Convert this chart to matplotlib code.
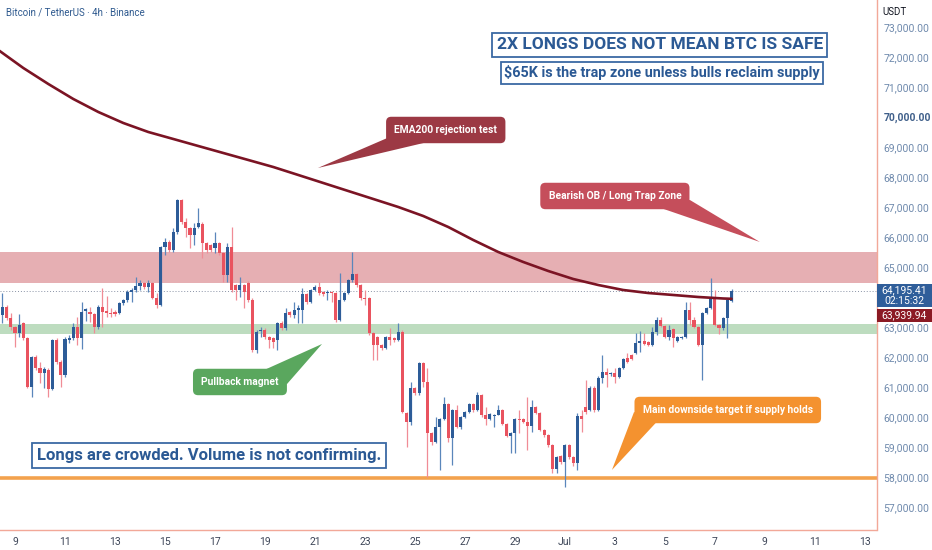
import matplotlib
matplotlib.use("Agg")
import matplotlib.pyplot as plt
from matplotlib.patches import Polygon, Rectangle
import numpy as np

plt.rcParams['font.family'] = ['Roboto', 'DejaVu Sans']

# BTC/USDT 4h candles, index 0 = Jun 9 00:00, first candle Jun 8 12:00
first_idx = -3
opens = [
    63400, 63670, 63300, 63000, 62800, 63130, 62630, 61000, 62000, 61630,
    61470, 61570, 60930, 62570, 61830, 61400, 62570, 62630, 63000, 62630,
    63530, 63500, 63430, 63000, 63670, 63530, 63470, 63500, 63470, 63800,
    63900, 64170, 64230, 64370, 64470, 64330, 64470, 63970, 63730, 65670,
    65830, 65570, 66170, 67230, 66500, 66300, 66070, 66330, 66430, 65800,
    65730, 65630, 65800, 65470, 64730, 65670, 64400, 64230, 64400, 64470,
    63900, 62230, 62870, 62900, 62670, 62630, 62570, 63130, 62970, 63500,
    63400, 63570, 63570, 64100, 63830, 64230, 64330, 64170, 64130, 64170,
    64130, 63230, 63900, 64130, 64570, 64770, 64400, 63970, 63970, 62800,
    62670, 62400, 62300, 62670, 62630, 62570, 62830, 60130, 59830, 60970,
    60800, 61800, 61170, 59470, 59170, 59670, 59930, 60430, 59300, 60230,
    59670, 60000, 60170, 60430, 60230, 60730, 60070, 59930, 60030, 60070,
    60230, 59770, 59370, 59470, 59930, 59930, 59830, 59700, 60330, 60130,
    59570, 59400, 59070, 58270, 58700, 58500, 59070, 58670, 58470, 60030,
    60330, 60230, 60970, 60230, 61300, 61500, 61430, 61470, 61330, 61630,
    61970, 62070, 62130, 62470, 62530, 62500, 62400, 62830, 63230, 63030,
    62670, 62930, 62530, 62630, 62670, 63570, 63230, 63000, 62400, 63470,
    63630, 63970, 63070, 62970, 63300, 63870,
]
highs = [
    64130, 63730, 63470, 63030, 63430, 63170, 62670, 62030, 62070, 61830,
    61670, 61630, 62600, 62630, 61900, 62670, 62730, 63130, 63330, 63830,
    63630, 63670, 63470, 63730, 64300, 64030, 63630, 63570, 63830, 63930,
    64230, 64300, 64670, 64570, 64500, 64570, 64500, 64130, 65700, 65970,
    65900, 66300, 67270, 67270, 66630, 66330, 66470, 66970, 66500, 65830,
    65770, 66170, 65830, 65500, 65800, 66330, 64430, 64670, 64430, 64530,
    63970, 62900, 63000, 62970, 62700, 62670, 63170, 63200, 63630, 63530,
    63830, 63730, 64300, 64130, 64270, 64400, 64500, 64200, 64230, 64200,
    64170, 64800, 64170, 64600, 65500, 64800, 64430, 64230, 64000, 62830,
    62700, 62430, 62700, 62970, 62670, 63130, 62900, 60170, 61170, 61000,
    61830, 61830, 61630, 59500, 60000, 59970, 60670, 60470, 60270, 60400,
    60030, 60200, 60470, 60470, 60830, 60770, 60330, 60130, 60100, 60400,
    60270, 59800, 59500, 59970, 60230, 59970, 60670, 60570, 60370, 60170,
    59600, 59430, 59100, 58700, 58730, 59100, 59100, 58700, 60130, 60230,
    61230, 61030, 61030, 61370, 62070, 61630, 61500, 61630, 61670, 61970,
    62130, 62100, 62800, 62870, 62800, 62530, 63000, 63330, 63330, 63070,
    63070, 62970, 62700, 62700, 63830, 63830, 63330, 63030, 63500, 63670,
    64630, 64230, 63100, 63330, 63930, 64270,
]
lows = [
    63130, 63230, 62900, 62330, 62670, 62570, 60970, 60670, 61570, 61130,
    60970, 60670, 60900, 61770, 61000, 61330, 62470, 62570, 62400, 62270,
    63200, 63170, 62800, 62930, 63000, 63330, 63330, 63370, 63430, 63730,
    63830, 63830, 64170, 64230, 64270, 64170, 63930, 63630, 63700, 65400,
    65500, 65500, 66100, 66430, 66000, 65630, 65730, 66300, 65300, 65470,
    65500, 65470, 65400, 64500, 64500, 64170, 63900, 64000, 63630, 63830,
    62170, 62130, 62670, 62600, 62300, 62300, 62230, 62900, 62900, 63330,
    63300, 63130, 63130, 63770, 63800, 64200, 64070, 64030, 63900, 63830,
    63170, 63200, 63870, 64100, 64500, 64330, 63900, 63730, 62730, 61900,
    61900, 62230, 62270, 62400, 62500, 62530, 60130, 59000, 59730, 60730,
    60730, 61000, 58000, 59070, 59130, 58230, 59900, 59170, 58400, 59630,
    59600, 59970, 60130, 60170, 60200, 60000, 59730, 59900, 59670, 60070,
    59730, 59330, 58800, 58800, 59470, 59800, 58900, 59500, 60100, 59530,
    59330, 59000, 58130, 58130, 58430, 57670, 58600, 58370, 58230, 59500,
    60100, 60200, 60170, 60200, 61130, 61000, 61370, 61130, 61300, 61600,
    61800, 61900, 62100, 62170, 62400, 62370, 62370, 62730, 63000, 62630,
    62570, 62330, 62500, 62600, 62630, 63070, 62970, 62370, 61230, 63430,
    63600, 63030, 62770, 62900, 62630, 63830,
]
closes = [
    63670, 63300, 63000, 62800, 63070, 62630, 61000, 62000, 61630, 61470,
    61600, 60930, 62570, 61830, 61400, 62600, 62630, 63000, 62630, 63500,
    63600, 63430, 63000, 63670, 63500, 63470, 63430, 63430, 63800, 63900,
    64170, 64230, 64370, 64470, 64330, 64470, 63970, 63730, 65670, 65830,
    65570, 66170, 67230, 66500, 66300, 66070, 66300, 66470, 65800, 65570,
    65570, 65800, 65470, 64730, 65670, 64230, 64230, 64400, 64170, 63900,
    62230, 62830, 62900, 62670, 62570, 62500, 63130, 62970, 63470, 63400,
    63570, 63630, 64100, 63830, 64230, 64330, 64130, 64100, 64140, 64130,
    63230, 63900, 64130, 64570, 64770, 64400, 63970, 63930, 62800, 62400,
    62400, 62300, 62670, 62570, 62570, 62830, 60170, 59830, 60970, 60800,
    61800, 61170, 59470, 59170, 59670, 59930, 60430, 59300, 60230, 59670,
    60000, 60170, 60430, 60230, 60730, 60070, 59930, 60100, 60050, 60230,
    59770, 59370, 59470, 59930, 59900, 59830, 59700, 60330, 60130, 59570,
    59400, 59070, 58270, 58670, 58500, 59070, 58670, 58470, 60030, 59930,
    60170, 60970, 60230, 61300, 61500, 61400, 61440, 61330, 61630, 61930,
    61830, 61930, 62470, 62530, 62430, 62400, 62830, 63230, 63030, 62670,
    62900, 62630, 62670, 62670, 63570, 63230, 63000, 62400, 63470, 63630,
    63970, 63070, 62970, 63300, 63900, 64195,
]

# EMA200 every 6 candles
ema_idx = [-4, 2, 8, 14, 20, 26, 32, 38, 44, 50, 56, 62, 68, 74, 80, 86, 92,
           98, 104, 110, 116, 122, 128, 134, 140, 146, 152, 158, 164, 170, 172]
ema_vals = [72233, 71633, 71100, 70600, 70167, 69800, 69500, 69267, 69033,
            68800, 68567, 68333, 68067, 67800, 67533, 67267, 67000, 66700,
            66333, 65900, 65500, 65167, 64867, 64600, 64400, 64233, 64133,
            64067, 64000, 63950, 63940]

# levels
supply_zone = (64450, 65500)
pullback_zone = (62770, 63100)
target_level = 57950
last_price = 64195.41
ema_last = 63939.94

day_ticks = list(range(0, 205, 12))
day_labels = ['9', '11', '13', '15', '17', '19', '21', '23', '25', '27', '29',
              'Jul', '3', '5', '7', '9', '11', '13']
price_ticks = [57000, 58000, 59000, 60000, 61000, 62000, 63000, 65000, 66000,
               67000, 68000, 69000, 70000, 71000, 72000, 73000]

BLUE = '#2d5c98'
RED = '#e9535f'
BLUE_W = '#5a86bb'
RED_W = '#f08c96'
TXT_BLUE = '#2b5994'
AXIS_C = '#f2a898'

fig = plt.figure(figsize=(9.32, 5.5), dpi=100)
ax = fig.add_axes([0.0, 20 / 550, 876.5 / 932, 530 / 550])
ax.set_xlim(-3.6, 206.8)
ax.set_ylim(56233, 73900)

o = np.array(opens, dtype=float)
h = np.array(highs, dtype=float)
l = np.array(lows, dtype=float)
c = np.array(closes, dtype=float)
x = np.arange(len(c)) + first_idx
up = c >= o

ax.axhspan(*supply_zone, color='#e6afb3', zorder=1, lw=0)
ax.axhspan(*pullback_zone, color='#bddcbf', zorder=1, lw=0)
ax.axhline(target_level, color='#f3a24e', lw=2.6, zorder=2)
ax.axhline(last_price, color='#8a93a6', lw=0.7, ls=(0, (1, 2)), zorder=2)

ax.vlines(x, l, h, colors=np.where(up, BLUE_W, RED_W), lw=0.9, zorder=3)
body_h = np.maximum(np.abs(c - o), 25)
ax.bar(x, body_h, bottom=np.minimum(o, c), width=0.74,
       color=np.where(up, BLUE, RED), lw=0, zorder=4)

ax.plot(ema_idx, ema_vals, color='#7b1424', lw=1.9, zorder=5,
        solid_capstyle='round', solid_joinstyle='round')

# axes styling
for s in ['top', 'left']:
    ax.spines[s].set_visible(False)
for s in ['right', 'bottom']:
    ax.spines[s].set_color(AXIS_C)
    ax.spines[s].set_linewidth(1.0)
ax.yaxis.tick_right()
ax.set_yticks(price_ticks)
ax.set_yticklabels([f'{v:,.2f}' for v in price_ticks])
ax.tick_params(axis='y', length=0, pad=5, labelsize=7.5, labelcolor='#6f8aad')
for lab, v in zip(ax.get_yticklabels(), price_ticks):
    if v == 70000:
        lab.set_fontweight('bold')
        lab.set_color('#3f5f8a')
ax.set_xticks(day_ticks)
ax.set_xticklabels(day_labels)
ax.tick_params(axis='x', length=0, pad=5, labelsize=7.5, labelcolor='#3d4658')

# header texts
fig.text(0.006, 1 - 12 / 550, 'Bitcoin / TetherUS · 4h · Binance', fontsize=7,
         color='#2f5a8f', va='center', ha='left')
fig.text(882 / 932, 1 - 12 / 550, 'USDT', fontsize=7, color='#131722',
         va='center', ha='left')

# price labels on the axis
fig.add_artist(Rectangle((877 / 932, 1 - 307 / 550), 55 / 932, 23 / 550,
                         transform=fig.transFigure, color='#2f5e9a', lw=0))
fig.add_artist(Rectangle((877 / 932, 1 - 322 / 550), 55 / 932, 13 / 550,
                         transform=fig.transFigure, color='#8b1a24', lw=0))
fig.text(904 / 932, 1 - 290 / 550, f'{last_price:,.2f}', fontsize=7.5,
         color='white', ha='center', va='center')
fig.text(904 / 932, 1 - 301 / 550, '02:15:32', fontsize=7.5,
         color='white', ha='center', va='center')
fig.text(904 / 932, 1 - 315.5 / 550, f'{ema_last:,.2f}', fontsize=7.5,
         color='white', ha='center', va='center')

# headline boxes
ax.text(154.8, 72400, '2X LONGS DOES NOT MEAN BTC IS SAFE', fontsize=12.5,
        fontweight='bold', color=TXT_BLUE, ha='center', va='center', zorder=8,
        bbox=dict(boxstyle='square,pad=0.25', fc='white', ec='#3a69a4', lw=1.3))
ax.text(155.3, 71467, '$65K is the trap zone unless bulls reclaim supply',
        fontsize=10.4, fontweight='bold', color=TXT_BLUE, ha='center',
        va='center', zorder=8,
        bbox=dict(boxstyle='square,pad=0.25', fc='white', ec='#3a69a4', lw=1.3))
ax.text(46.6, 58700, 'Longs are crowded. Volume is not confirming.',
        fontsize=12, fontweight='bold', color=TXT_BLUE, ha='center',
        va='center', zorder=8,
        bbox=dict(boxstyle='square,pad=0.3', fc='white', ec='#3a69a4', lw=1.3))


def callout(cx, cy, text, color, pointer):
    ax.add_patch(Polygon(pointer, closed=True, fc=color, ec='none', zorder=7))
    ax.text(cx, cy, text, fontsize=7.4, fontweight='bold', color='white',
            ha='center', va='center', zorder=8,
            bbox=dict(boxstyle='round,pad=0.8,rounding_size=0.5', fc=color,
                      ec='none'))


callout(103.4, 69567, 'EMA200 rejection test', '#9c3944',
        [(90.5, 69367), (99.1, 69167), (72.7, 68300)])
callout(144.0, 67367, 'Bearish OB / Long Trap Zone', '#c54e5b',
        [(153.6, 67034), (162.0, 67234), (178.8, 65834)])
callout(54.0, 61167, 'Pullback magnet', '#5aa75e',
        [(59.3, 61534), (65.3, 61100), (73.7, 62434)])
callout(171.1, 60233, 'Main downside target if supply holds', '#f4922f',
        [(148.6, 60167), (153.8, 59800), (143.3, 58235)])

fig.savefig('out.png', dpi=100)
